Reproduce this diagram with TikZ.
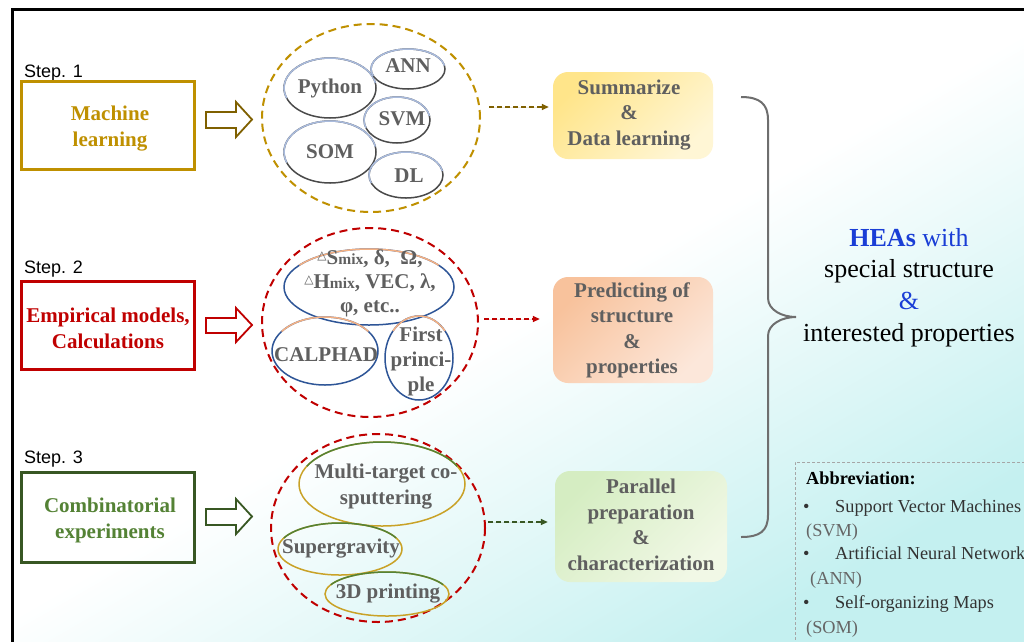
\documentclass[tikz,border=0pt]{standalone}
\usepackage{fontspec}
\setmainfont{Liberation Serif}
\newfontfamily\arialf{Liberation Sans}
\newfontfamily\dejavuf{DejaVu Sans}
\usetikzlibrary{arrows.meta,shapes.geometric}
\definecolor{gold}{HTML}{BF9000}
\definecolor{goldd}{HTML}{7F6000}
\definecolor{redc}{HTML}{C00000}
\definecolor{greenb}{HTML}{385723}
\definecolor{greent}{HTML}{548235}
\definecolor{txtg}{HTML}{5F5F5F}
\definecolor{heablue}{HTML}{1A3ED6}
\definecolor{bgcyan}{HTML}{C4F0F0}
\definecolor{eonetop}{HTML}{A9BBDD}
\definecolor{eonebot}{HTML}{4A4A4A}
\definecolor{etwotop}{HTML}{F4B183}
\definecolor{etwobot}{HTML}{2E5597}
\definecolor{ethreetop}{HTML}{548235}
\definecolor{ethreebot}{HTML}{C9A227}
\definecolor{bracec}{HTML}{6E6E6E}
\definecolor{sumA}{HTML}{FFE58A}\definecolor{sumB}{HTML}{FFF6D5}
\definecolor{preA}{HTML}{F8C29C}\definecolor{preB}{HTML}{FCE7DA}
\definecolor{parA}{HTML}{D5EDC2}\definecolor{parB}{HTML}{F1F8E6}
\newcommand\tri{\raisebox{5pt}{\dejavuf\fontsize{12}{12}\selectfont △}}
\newcommand\mixs{{\fontsize{15.5}{15.5}\selectfont mix}}
\newcommand\ellarcs[8]{%
  \draw[line width=1.5pt,#8] (#1,#2) ellipse [x radius=#3pt, y radius=#4pt];
  \draw[line width=1.5pt,#7] ([shift={(#5:#3pt and #4pt)}]#1,#2) arc[start angle=#5, end angle=#6, x radius=#3pt, y radius=#4pt];}
\begin{document}
\begin{tikzpicture}[x=1pt,y=-1pt,
  stepbox/.style={draw, line width=3pt, minimum width=173pt, minimum height=88pt, inner sep=0pt, align=center, font=\fontsize{21}{26}\selectfont\bfseries},
  steplbl/.style={anchor=base west, inner sep=0pt, font=\arialf\fontsize{18}{18}\selectfont},
  dcirc/.style={ellipse, draw, dash pattern=on 8pt off 5pt, line width=2pt, inner sep=0pt},
  itxt/.style={inner sep=0pt, align=center, text=txtg, font=\fontsize{21}{24}\selectfont\bfseries},
  rbox/.style={rounded corners=15pt, inner sep=0pt, align=center, text=txtg, font=\fontsize{21}{25.5}\selectfont\bfseries},
  darr/.style={line width=1.5pt, dash pattern=on 5pt off 3pt, -{Triangle[length=7pt,width=6pt]}},
  hollow/.style={line width=1.8pt, fill=white, line join=miter},
  abtxt/.style={anchor=base west, inner sep=0pt, font=\fontsize{18.3}{18.3}\selectfont},
  brace/.style={draw=bracec, line width=2pt},
]
\useasboundingbox (0,0) rectangle (1024,641);
\fill[white] (0,0) rectangle (1024,641);
\shade[top color=white, bottom color=bgcyan, middle color=white, shading angle=30] (12,9) rectangle (1024,641);
\draw[line width=3pt] (12,645) -- (12,9) -- (1030,9);

% step labels
\node[steplbl] (s1) at (24,77) {Step. 1};
\node[steplbl] (s2) at (24,273) {Step. 2};
\node[steplbl] (s3) at (24,463) {Step. 3};

% step boxes
\node[stepbox, draw=gold, text=gold] (b1) at (108,125) {};
\node[inner sep=0pt, align=center, text=gold, font=\fontsize{21}{26}\selectfont\bfseries] (t1box) at (110,128.5) {Machine\\learning};
\node[stepbox, draw=redc, text=redc] (b2) at (107.5,325) {};
\node[inner sep=0pt, align=center, text=redc, font=\fontsize{21}{26}\selectfont\bfseries] (t2box) at (108,328) {Empirical models,\\Calculations};
\node[stepbox, draw=greenb, text=greent, minimum height=90pt] (b3) at (108,517) {};
\node[inner sep=0pt, align=center, text=greent, font=\fontsize{21}{26}\selectfont\bfseries] (t3box) at (110,520.5) {Combinatorial\\experiments};

% hollow arrows
\draw[hollow, draw=goldd] (206,112) -- (236,112) -- (236,102) -- (252,119.5) -- (236,137) -- (236,128) -- (206,128) -- cycle;
\draw[hollow, draw=redc] (206,318) -- (236,318) -- (236,308) -- (252,325) -- (236,342) -- (236,333) -- (206,333) -- cycle;
\draw[hollow, draw=greenb] (206,509) -- (236,509) -- (236,499) -- (252,516.5) -- (236,534) -- (236,525) -- (206,525) -- cycle;

% dashed circles
\node[dcirc, draw=gold, minimum width=218pt, minimum height=188pt] (c1) at (371,118) {};
\node[dcirc, draw=redc, minimum width=216pt, minimum height=189pt] (c2) at (370,322.5) {};
\node[dcirc, draw=redc, minimum width=214pt, minimum height=188pt] (c3) at (378,528) {};

% circle 1 contents
\ellarcs{330}{88}{46}{30}{10}{200}{eonetop}{eonebot}
\ellarcs{408}{69}{37}{20}{10}{200}{eonetop}{eonebot}
\ellarcs{397}{120}{33}{23}{10}{200}{eonetop}{eonebot}
\ellarcs{330}{152}{46}{31}{10}{200}{eonetop}{eonebot}
\ellarcs{406}{175}{37}{23}{10}{200}{eonetop}{eonebot}
\node[itxt] (py) at (330,88) {Python};
\node[itxt] (ann) at (408,66) {ANN};
\node[itxt] (svm) at (402,119) {SVM};
\node[itxt] (som) at (330,152) {SOM};
\node[itxt] (dl) at (409,176) {DL};

% circle 2 contents
\ellarcs{369}{287}{85}{38}{35}{145}{etwotop}{etwobot}
\ellarcs{325}{351}{53}{34}{35}{145}{etwotop}{etwobot}
\ellarcs{419}{358}{34}{42}{40}{140}{etwotop}{etwobot}
\node[itxt] (emp) at (370,283) {\tri S\mixs, δ,\ \ Ω,\\\tri H\mixs, VEC, λ,\\φ, etc..};
\node[itxt] (cal) at (326,355) {CALPHAD};
\node[itxt, font=\fontsize{21}{25}\selectfont\bfseries] (fp) at (421,361) {First\\princi-\\ple};

% circle 3 contents
\ellarcs{382}{484}{83}{42}{25}{155}{ethreetop}{ethreebot}
\ellarcs{340}{549}{62}{26}{25}{155}{ethreetop}{ethreebot}
\ellarcs{387}{594}{62}{22}{25}{155}{ethreetop}{ethreebot}
\node[itxt, font=\fontsize{21}{26}\selectfont\bfseries] (mt) at (386,487) {Multi-target co-\\sputtering};
\node[itxt] (sg) at (341,549) {Supergravity};
\node[itxt] (pr) at (388,594) {3D printing};

% right boxes
\node[rbox, top color=sumA, bottom color=sumB, shading angle=45, minimum width=160pt, minimum height=87pt] (sum) at (633,115.5) {};
\node[rbox] (sumt) at (629,115) {Summarize\\\&\\Data learning};
\node[rbox, top color=preA, bottom color=preB, shading angle=45, minimum width=160pt, minimum height=106pt] (pred) at (633,330) {};
\node[rbox] (predt) at (632,330.5) {Predicting of\\structure\\\&\\properties};
\node[rbox, top color=parA, bottom color=parB, shading angle=45, minimum width=172pt, minimum height=111pt] (par) at (641,526.5) {};
\node[rbox] (part) at (641,525) {Parallel\\preparation\\\&\\characterization};

% dashed connectors
\coordinate (a1) at (489,107);
\coordinate (a2) at (484,319);
\coordinate (a3) at (488,522);
\draw[darr, draw=goldd, fill=goldd, shorten >=4pt] (a1) -- (a1 -| sum.west);
\draw[darr, draw=redc, fill=redc, shorten >=13pt] (a2) -- (a2 -| pred.west);
\draw[darr, draw=greenb, fill=greenb, shorten >=7pt] (a3) -- (a3 -| par.west);

% brace
\draw[brace] (741,97) .. controls (760,97) and (768,104) .. (768,120) -- (768,298) .. controls (768,310) and (782,317) .. (796,317) .. controls (782,317) and (768,324) .. (768,336) -- (768,515) .. controls (768,531) and (760,537) .. (741,537);

% result text
\node[align=center, inner sep=0pt, font=\fontsize{26}{31.7}\selectfont] (hea) at (909,287.5) {{\color{heablue}\bfseries HEAs} {\color{heablue}with}\\special structure\\{\color{heablue}\&}\\interested properties};

% abbreviation box
\draw[draw=gray!70, line width=0.7pt, densely dashed] (1030,462) -- (795,462) -- (795,645);
\node[abtxt, font=\fontsize{18.3}{18.3}\selectfont\bfseries] (abh) at (806,484) {Abbreviation:};
\node[abtxt, text=black!80] (bu1) at (803,512) {•};
\node[abtxt, text=black!80] (ab1) at (835,512) {Support Vector Machines};
\node[abtxt, text=black!60] (p1) at (806,536) {(SVM)};
\node[abtxt, text=black!80] (bu2) at (803,559) {•};
\node[abtxt, text=black!80] (ab2) at (835,559) {Artificial Neural Network};
\node[abtxt, text=black!60] (p2) at (810,584) {(ANN)};
\node[abtxt, text=black!80] (bu3) at (803,608) {•};
\node[abtxt, text=black!80] (ab3) at (835,608) {Self-organizing Maps};
\node[abtxt, text=black!60] (p3) at (806,633) {(SOM)};
\end{tikzpicture}
\end{document}
